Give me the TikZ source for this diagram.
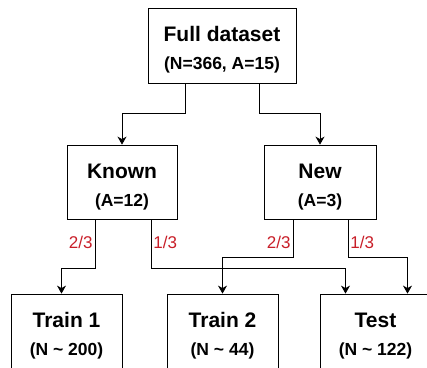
\documentclass[tikz,border=0pt]{standalone}
\usepackage{fontspec}
\setmainfont{Liberation Sans}
\usetikzlibrary{arrows.meta}
\definecolor{fracred}{RGB}{200,30,40}
\tikzset{
    box/.style={draw, line width=0.8pt, minimum width=111pt, minimum height=75pt,
        align=center, inner sep=0pt, font=\fontsize{17.5}{28}\selectfont\bfseries},
    arr/.style={line width=0.8pt, -{Stealth[length=8pt, width=9pt, inset=2.5pt]}},
    frac/.style={text=fracred, inner sep=2pt, font=\fontsize{17}{17}\selectfont},
}
\newcommand{\boxhead}[1]{\rule{0pt}{24pt}{\fontsize{21}{28}\selectfont #1}}
\begin{document}
\begin{tikzpicture}[x=1pt, y=1pt]
    \useasboundingbox (0,0) rectangle (427,-367);

    % boxes
    \node[box, minimum width=148pt] (full) at (222,-45.5) {\boxhead{Full dataset}\\(N=366, A=15)};
    \node[box, minimum width=110pt, minimum height=74pt] (known) at (122,-182) {\boxhead{Known}\\(A=12)};
    \node[box, minimum width=112pt, minimum height=74pt] (new) at (320,-182) {\boxhead{New}\\(A=3)};
    \node[box] (train1) at (66.5,-331.5) {\boxhead{Train 1}\\(N \textasciitilde{} 200)};
    \node[box] (train2) at (222.5,-331.5) {\boxhead{Train 2}\\(N \textasciitilde{} 44)};
    \node[box] (test) at (375.5,-331.5) {\boxhead{Test}\\(N \textasciitilde{} 122)};

    % split into known and new
    \draw[arr] ([xshift=-37pt]full.south) -- ++(0,-30) -| (known.north);
    \draw[arr] ([xshift=37pt]full.south) -- ++(0,-30) -| (new.north);

    % split into train and test
    \draw[arr] ([xshift=-27pt]known.south) -- ++(0,-49) node[frac, pos=0.47, left] {2/3} -| ([xshift=-5pt]train1.north);
    \draw[arr] ([xshift=29pt]known.south) -- ++(0,-49) node[frac, pos=0.47, right] {1/3} -| ([xshift=-30pt]test.north);
    \draw[arr] ([xshift=-27pt]new.south) -- ++(0,-38) node[frac, pos=0.6, left] {2/3} -| (train2.north);
    \draw[arr] ([xshift=28pt]new.south) -- ++(0,-38) node[frac, pos=0.6, right] {1/3} -| ([xshift=32pt]test.north);
\end{tikzpicture}
\end{document}
